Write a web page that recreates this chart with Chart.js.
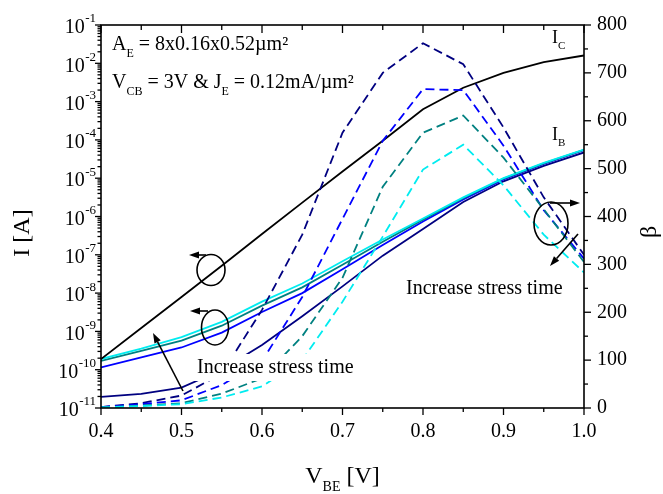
<!DOCTYPE html>
<html>
<head>
<meta charset="UTF-8">
<title>Ic, Ib and beta vs VBE</title>
<script src="https://cdn.jsdelivr.net/npm/chart.js"></script>
<style>
  body { margin: 0; background: #fff; }
</style>
</head>
<body>
<canvas id="chart" width="663" height="494"></canvas>
<script>
// VBE sweep [V]
var vbe = [0.40, 0.45, 0.50, 0.55, 0.60, 0.65, 0.70, 0.75, 0.80, 0.85, 0.90, 0.95, 1.00];

// currents [A], left log axis
var icCurve = [1.9e-10, 1.23e-9, 7.9e-9, 5.2e-8, 3.5e-7, 2.3e-6, 1.5e-5, 9.5e-5, 6.3e-4, 2.3e-3, 5.6e-3, 1.07e-2, 1.6e-2];
var ibNavy = [1.95e-11, 2.35e-11, 3.4e-11, 1.0e-10, 4.4e-10, 2.5e-9, 1.5e-8, 9.5e-8, 4.7e-7, 2.4e-6, 8.3e-6, 2.1e-5, 4.7e-5];
var ibBlue = [1.15e-10, 2.1e-10, 3.8e-10, 9.3e-10, 3.2e-9, 1.0e-8, 4.2e-8, 1.8e-7, 7.4e-7, 2.8e-6, 9.3e-6, 2.35e-5, 5.4e-5];
var ibTeal = [1.7e-10, 3.1e-10, 5.75e-10, 1.41e-9, 4.7e-9, 1.41e-8, 5.5e-8, 2.2e-7, 8.3e-7, 3.0e-6, 9.8e-6, 2.45e-5, 5.5e-5];
var ibCyan = [1.9e-10, 3.55e-10, 7.1e-10, 1.78e-9, 6.0e-9, 1.78e-8, 6.8e-8, 2.5e-7, 8.9e-7, 3.16e-6, 1.0e-5, 2.5e-5, 5.6e-5];

// current gain, right axis
var betaNavy = [2, 10, 26, 72, 205, 362, 575, 700, 762, 718, 586, 440, 320];
var betaBlue = [2, 8, 16, 48, 98, 232, 395, 558, 666, 664, 548, 413, 312];
var betaTeal = [1, 5, 10, 30, 62, 150, 272, 462, 575, 611, 523, 415, 305];
var betaCyan = [1, 4, 8, 22, 45, 100, 222, 358, 498, 550, 465, 362, 283];

// left axis decade labels (exponents)
var decades = [-1, -2, -3, -4, -5, -6, -7, -8, -9, -10, -11];

var SERIF = '"Liberation Serif", "Times New Roman", serif';
var NAVY = '#000080', BLUE = '#0000ff', TEAL = '#008080', CYAN = '#00ecf0';

function pts(ys) {
    return vbe.map(function (v, i) { return { x: v, y: ys[i] }; });
}

function solid(label, ys, color) {
    return { label: label, data: pts(ys), borderColor: color, borderWidth: 1.8,
             pointRadius: 0, fill: false, tension: 0, yAxisID: 'y' };
}
function dashed(label, ys, color) {
    return { label: label, data: pts(ys), borderColor: color, borderWidth: 1.8,
             borderDash: [9, 5], pointRadius: 0, fill: false, tension: 0, yAxisID: 'y2' };
}

// text made of runs: [text, 'sub'|'sup'|undefined]
function runs(ctx, x, y, parts, size) {
    parts.forEach(function (p) {
        var s = p[1] ? Math.round(size * 0.6) : size;
        var dy = p[1] === 'sub' ? size * 0.35 : (p[1] === 'sup' ? -size * 0.4 : 0);
        ctx.font = s + 'px ' + SERIF;
        ctx.fillText(p[0], x, y + dy);
        x += ctx.measureText(p[0]).width;
    });
    return x;
}
function runsWidth(ctx, parts, size) {
    var w = 0;
    parts.forEach(function (p) {
        ctx.font = (p[1] ? Math.round(size * 0.6) : size) + 'px ' + SERIF;
        w += ctx.measureText(p[0]).width;
    });
    return w;
}

function line(ctx, x1, y1, x2, y2) {
    ctx.beginPath(); ctx.moveTo(x1, y1); ctx.lineTo(x2, y2); ctx.stroke();
}
function arrow(ctx, x1, y1, x2, y2) {
    var ang = Math.atan2(y2 - y1, x2 - x1), L = 10, W = 3.5;
    var bx = x2 - L * Math.cos(ang), by = y2 - L * Math.sin(ang);
    line(ctx, x1, y1, bx, by);
    ctx.beginPath();
    ctx.moveTo(x2, y2);
    ctx.lineTo(bx + W * Math.sin(ang), by - W * Math.cos(ang));
    ctx.lineTo(bx - W * Math.sin(ang), by + W * Math.cos(ang));
    ctx.closePath(); ctx.fill();
}
function ellipse(ctx, cx, cy, rx, ry) {
    ctx.beginPath(); ctx.ellipse(cx, cy, rx, ry, 0, 0, Math.PI * 2); ctx.stroke();
}
function boxedText(ctx, txt, x, y, size) {
    ctx.font = size + 'px ' + SERIF;
    var w = ctx.measureText(txt).width;
    ctx.fillStyle = '#fff';
    ctx.fillRect(x - 3, y - size * 0.95, w + 6, size * 1.35);
    ctx.fillStyle = '#000';
    ctx.fillText(txt, x, y);
}

var decor = {
    id: 'decor',
    afterDatasetsDraw: function (chart) {
        var ctx = chart.ctx, a = chart.chartArea;
        var xs = chart.scales.x, yl = chart.scales.y, yr = chart.scales.y2;
        ctx.save();
        ctx.strokeStyle = '#000';
        ctx.fillStyle = '#000';
        ctx.textAlign = 'left';
        ctx.textBaseline = 'alphabetic';

        // labels with white background
        boxedText(ctx, 'Increase stress time', 197, 373, 20);
        boxedText(ctx, 'Increase stress time', 406, 294, 20);

        // frame
        ctx.lineWidth = 1.6;
        ctx.strokeRect(a.left, a.top, a.right - a.left, a.bottom - a.top);

        // x ticks (bottom out, top in)
        ctx.lineWidth = 1.3;
        for (var i = 0; i <= 12; i++) {
            var px = xs.getPixelForValue(vbe[0] + i * 0.05);
            var major = i % 2 === 0;
            line(ctx, px, a.bottom, px, a.bottom + (major ? 7 : 4));
            line(ctx, px, a.top, px, a.top + (major ? 8 : 5));
        }
        // left log ticks
        decades.forEach(function (k) {
            var py = yl.getPixelForValue(Math.pow(10, k));
            line(ctx, a.left - 6, py, a.left, py);
            if (k < -1) {
                for (var m = 2; m <= 9; m++) {
                    var pm = yl.getPixelForValue(m * Math.pow(10, k));
                    line(ctx, a.left - 3.5, pm, a.left, pm);
                }
            }
        });
        // right linear ticks
        for (var b = 0; b <= 800; b += 50) {
            var pb = yr.getPixelForValue(b);
            line(ctx, a.right, pb, a.right + (b % 100 === 0 ? 7 : 4), pb);
        }

        // left tick labels 10^k
        ctx.textBaseline = 'middle';
        ctx.textAlign = 'right';
        decades.forEach(function (k) {
            var py = yl.getPixelForValue(Math.pow(10, k));
            var sup = String(k);
            ctx.font = '13px ' + SERIF;
            var sw = ctx.measureText(sup).width;
            ctx.fillText(sup, a.left - 5, py - 6);
            ctx.font = '20px ' + SERIF;
            ctx.fillText('10', a.left - 5 - sw - 0.5, py + 3);
        });

        // axis titles
        ctx.textAlign = 'center';
        ctx.font = '24px ' + SERIF;
        ctx.save();
        ctx.translate(23, 233);
        ctx.rotate(-Math.PI / 2);
        ctx.fillText('I [A]', 0, 0);
        ctx.restore();
        ctx.save();
        ctx.translate(650, 232);
        ctx.rotate(-Math.PI / 2);
        ctx.fillText('\u03b2', 0, 0);
        ctx.restore();

        ctx.textAlign = 'left';
        ctx.textBaseline = 'alphabetic';
        var xt = [['V'], ['BE', 'sub'], [' [V]']];
        var wt = runsWidth(ctx, xt, 24);
        runs(ctx, (a.left + a.right) / 2 - wt / 2, 483, xt, 24);

        // device info
        runs(ctx, 112, 50, [['A'], ['E', 'sub'], [' = 8x0.16x0.52\u00b5m\u00b2']], 20);
        runs(ctx, 112, 88, [['V'], ['CB', 'sub'], [' = 3V & J'], ['E', 'sub'], [' = 0.12mA/\u00b5m\u00b2']], 20);

        // curve labels
        runs(ctx, 552, 43, [['I'], ['C', 'sub']], 18);
        runs(ctx, 552, 140, [['I'], ['B', 'sub']], 18);

        // ellipses and arrows
        ctx.lineWidth = 1.6;
        ellipse(ctx, 211, 270, 14, 15.5);
        arrow(ctx, 206, 255, 189, 255);
        ellipse(ctx, 215, 327.5, 13.5, 17.5);
        arrow(ctx, 208, 311, 190, 311);
        ellipse(ctx, 551, 223.5, 17, 21.5);
        arrow(ctx, 550, 203, 580, 203);
        arrow(ctx, 183, 391, 153, 333);
        arrow(ctx, 578, 234, 550, 266);

        ctx.restore();
    }
};

var ctx = document.getElementById('chart').getContext('2d');
var chart = new Chart(ctx, {
    type: 'line',
    data: {
        datasets: [
            dashed('beta cyan', betaCyan, CYAN),
            dashed('beta teal', betaTeal, TEAL),
            dashed('beta blue', betaBlue, BLUE),
            dashed('beta navy', betaNavy, NAVY),
            solid('IC', icCurve, '#000'),
            solid('IB cyan', ibCyan, CYAN),
            solid('IB teal', ibTeal, TEAL),
            solid('IB blue', ibBlue, BLUE),
            solid('IB navy', ibNavy, NAVY)
        ]
    },
    options: {
        responsive: false,
        animation: false,
        devicePixelRatio: 1,
        layout: { padding: { top: 20, left: 0, right: 0, bottom: 0 } },
        plugins: { legend: { display: false }, tooltip: { enabled: false } },
        scales: {
            x: {
                type: 'linear', min: 0.4, max: 1.0,
                afterFit: function (s) { s.height = 86; },
                grid: { display: false, drawTicks: false },
                border: { display: false },
                ticks: {
                    stepSize: 0.1, padding: 12, color: '#000', maxRotation: 0,
                    font: { family: SERIF, size: 20 },
                    callback: function (v) { return Number(v).toFixed(1); }
                }
            },
            y: {
                type: 'logarithmic', position: 'left', min: 1e-11, max: 1e-1,
                afterFit: function (s) { s.width = 101; },
                grid: { display: false, drawTicks: false },
                border: { display: false },
                ticks: { display: false }
            },
            y2: {
                type: 'linear', position: 'right', min: 0, max: 800,
                afterFit: function (s) { s.width = 79; },
                grid: { display: false, drawTicks: false },
                border: { display: false },
                ticks: {
                    stepSize: 100, padding: 13, color: '#000',
                    font: { family: SERIF, size: 20 }
                }
            }
        }
    },
    plugins: [decor]
});
</script>
</body>
</html>
